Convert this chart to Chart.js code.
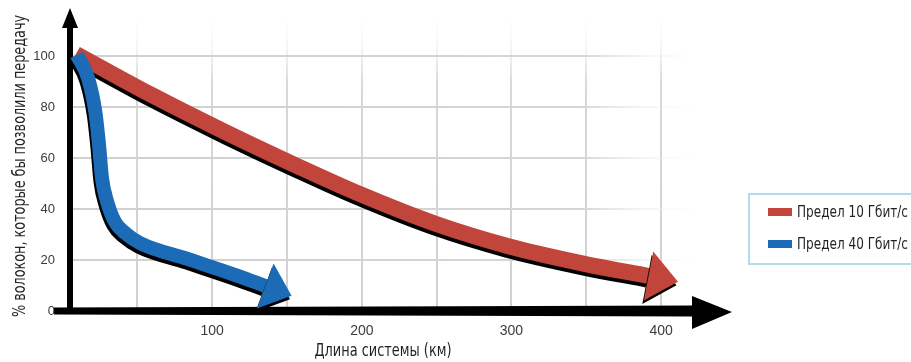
<!DOCTYPE html>
<html>
<head>
<meta charset="utf-8">
<script src="https://cdn.jsdelivr.net/npm/chart.js@4/dist/chart.umd.min.js"></script>
<style>
html,body{margin:0;padding:0;background:#fff;}
#wrap{position:relative;width:911px;height:362px;overflow:hidden;background:#fff;}
#chart{position:absolute;left:0;top:0;}
#legend{position:absolute;left:748px;top:193px;width:190px;height:72px;border:2px solid #b2dbef;box-sizing:border-box;
  font-family:'DejaVu Sans Condensed','Liberation Sans Narrow',sans-serif;font-size:16px;color:#231f20;}
.item{position:absolute;left:18px;height:16px;line-height:16px;white-space:nowrap;}
.sw{position:absolute;left:0;top:4px;width:24px;height:8px;}
.txt{position:absolute;left:29px;top:0;transform-origin:0 50%;}
</style>
</head>
<body>
<div id="wrap">
  <canvas id="chart" width="911" height="362"></canvas>
  <div id="legend"></div>
</div>
<script>
// ---- data ----
const seriesLabels = ['Предел 10 Гбит/с', 'Предел 40 Гбит/с'];
const seriesColors = ['#c2453c', '#1b6bb6'];
const distance10 = [9.0, 58.5, 108.0, 158.9, 199.7, 249.2, 298.0, 348.0, 391.6];
const share10    = [100.8, 85.0, 70.4, 56.3, 45.6, 34.2, 25.4, 18.6, 13.7];
const distance40 = [9.5, 17.1, 21.9, 24.4, 26.4, 29.8, 35.0, 42.0, 52.0, 83.6, 117.1, 135.5];
const share40    = [100.4, 91.3, 78.2, 65.1, 52.0, 42.9, 35.0, 30.5, 26.6, 20.4, 13.8, 9.8];
const xTickLabels = [100, 200, 300, 400];
const yTickLabels = [0, 20, 40, 60, 80, 100];
const xTitle = 'Длина системы (км)';
const yTitle = '% волокон, которые бы позволили передачу';

const condensed = "'DejaVu Sans Condensed','Liberation Sans Narrow',sans-serif";
const tickFont = "'Liberation Sans',Arial,sans-serif";

// legend (HTML), squeezed to the reference's condensed width
const legend = document.getElementById('legend');
const legendTops = [9, 41];
seriesLabels.forEach((lab, i) => {
  const it = document.createElement('div');
  it.className = 'item';
  it.style.top = legendTops[i] + 'px';
  it.innerHTML = '<span class="sw" style="background:' + seriesColors[i] + '"></span><span class="txt"></span>';
  const t = it.querySelector('.txt');
  t.textContent = lab;
  legend.appendChild(it);
  const w = t.getBoundingClientRect().width;
  if (w > 0) t.style.transform = 'scaleX(' + (111 / w) + ')';
});

const bandSpec = [{len: 30, half: 25}, {len: 28, half: 24}];

const bandShadow = {
  id: 'bandShadow',
  beforeDatasetDraw(chart, args) {
    const ctx = chart.ctx;
    ctx.save();
    ctx.shadowColor = '#000';
    ctx.shadowOffsetX = -1.5;
    ctx.shadowOffsetY = 3.5;
    ctx.shadowBlur = 0;
  },
  afterDatasetDraw(chart, args) {
    const ctx = chart.ctx;
    const pts = args.meta.data;
    const p = pts[pts.length - 1], q = pts[pts.length - 2];
    const ang = Math.atan2(p.y - q.y, p.x - q.x);
    const s = bandSpec[args.index];
    const c = Math.cos(ang), sn = Math.sin(ang);
    ctx.fillStyle = seriesColors[args.index];
    ctx.beginPath();
    ctx.moveTo(p.x - sn * s.half, p.y + c * s.half);
    ctx.lineTo(p.x + c * s.len, p.y + sn * s.len);
    ctx.lineTo(p.x + sn * s.half, p.y - c * s.half);
    ctx.closePath();
    ctx.fill();
    ctx.restore();
  }
};

const axesArrows = {
  id: 'axesArrows',
  beforeDatasetsDraw(chart) {
    const {ctx, chartArea: a, scales: {y}} = chart;
    const y0 = y.getPixelForValue(0);
    const x0 = a.left;
    ctx.save();
    ctx.fillStyle = '#000';
    ctx.beginPath();
    ctx.moveTo(x0 - 16, y0 - 3.5);
    ctx.lineTo(a.right - 6, y0 - 5.5);
    ctx.lineTo(a.right - 6, y0 + 5.5);
    ctx.lineTo(x0 - 16, y0 + 3.5);
    ctx.closePath();
    ctx.fill();
    ctx.beginPath();
    ctx.moveTo(a.right - 8, y0 - 15);
    ctx.lineTo(a.right + 32, y0 + 1);
    ctx.lineTo(a.right - 8, y0 + 18);
    ctx.closePath();
    ctx.fill();
    ctx.fillRect(x0 - 3, a.top + 18, 6, y0 - a.top - 18);
    ctx.beginPath();
    ctx.moveTo(x0 - 8, a.top + 20);
    ctx.lineTo(x0, a.top);
    ctx.lineTo(x0 + 8, a.top + 20);
    ctx.closePath();
    ctx.fill();
    ctx.restore();
  }
};

// axis titles in a condensed face, squeezed to the reference widths
const axisTitles = {
  id: 'axisTitles',
  afterDraw(chart) {
    const ctx = chart.ctx;
    ctx.save();
    ctx.font = '18px ' + condensed;
    ctx.fillStyle = '#231f20';
    ctx.textAlign = 'center';
    ctx.textBaseline = 'middle';
    let w = ctx.measureText(xTitle).width;
    ctx.save();
    ctx.translate(383, 351);
    ctx.scale(137 / w, 1);
    ctx.fillText(xTitle, 0, 0);
    ctx.restore();
    w = ctx.measureText(yTitle).width;
    ctx.save();
    ctx.translate(20, 166);
    ctx.rotate(-Math.PI / 2);
    ctx.scale(302 / w, 1);
    ctx.fillText(yTitle, 0, 0);
    ctx.restore();
    ctx.restore();
  }
};

function hGridColor(ctx) {
  const c = ctx.chart, a = c.chartArea;
  if (!a) return '#d4d4d4';
  const g = c.ctx.createLinearGradient(a.left, 0, a.right + 10, 0);
  g.addColorStop(0, '#d0d0d0');
  g.addColorStop(0.8, '#d6d6d6');
  g.addColorStop(1, 'rgba(255,255,255,0)');
  return g;
}
function vGridColor(ctx) {
  const c = ctx.chart, a = c.chartArea;
  if (!a) return '#d4d4d4';
  const g = c.ctx.createLinearGradient(0, a.bottom, 0, a.top);
  g.addColorStop(0, '#d0d0d0');
  g.addColorStop(0.75, '#d8d8d8');
  g.addColorStop(1, 'rgba(255,255,255,0)');
  return g;
}

const datasets = [
  {
    label: seriesLabels[0],
    data: distance10.map((d, i) => ({x: d, y: share10[i]})),
    borderColor: seriesColors[0],
    borderWidth: 16,
    borderCapStyle: 'butt',
    cubicInterpolationMode: 'monotone',
    pointRadius: 0,
    fill: false,
    clip: false,
    order: 2
  },
  {
    label: seriesLabels[1],
    data: distance40.map((d, i) => ({x: d, y: share40[i]})),
    borderColor: seriesColors[1],
    borderWidth: 14,
    borderCapStyle: 'butt',
    cubicInterpolationMode: 'monotone',
    pointRadius: 0,
    fill: false,
    clip: false,
    order: 1
  }
];

new Chart(document.getElementById('chart'), {
  type: 'line',
  data: {datasets},
  options: {
    responsive: false,
    animation: false,
    devicePixelRatio: 1,
    layout: {autoPadding: false, padding: {left: 0, top: 8, right: 211, bottom: 0}},
    plugins: {legend: {display: false}, tooltip: {enabled: false}},
    scales: {
      x: {
        type: 'linear',
        min: 5,
        max: 426,
        border: {display: false},
        grid: {color: vGridColor, lineWidth: 2, drawTicks: false},
        ticks: {
          stepSize: 50,
          includeBounds: false,
          autoSkip: false,
          maxRotation: 0,
          padding: 12,
          color: '#3b3b3b',
          font: {family: tickFont, size: 14},
          callback: v => xTickLabels.includes(v) ? String(v) : ''
        },
        afterFit: s => { s.height = 51; }
      },
      y: {
        type: 'linear',
        min: 0,
        max: 118.8,
        border: {display: false},
        grid: {color: hGridColor, lineWidth: 2, drawTicks: true, tickLength: 15, tickColor: 'rgba(0,0,0,0)'},
        ticks: {
          stepSize: 20,
          includeBounds: false,
          padding: 0,
          color: '#3b3b3b',
          font: {family: tickFont, size: 13},
          callback: v => yTickLabels.includes(v) ? String(v) : ''
        },
        afterFit: s => { s.width = 70; }
      }
    }
  },
  plugins: [axesArrows, bandShadow, axisTitles]
});
</script>
</body>
</html>
